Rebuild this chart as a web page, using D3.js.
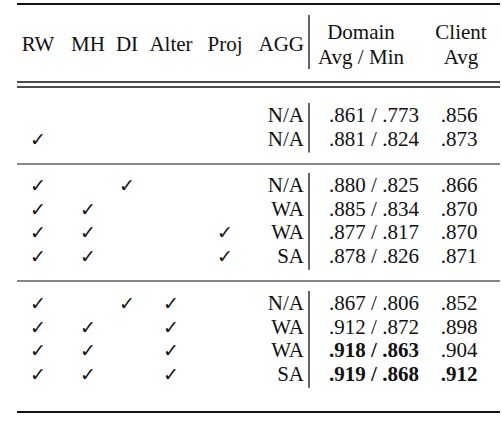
<!DOCTYPE html>
<html><head><meta charset="utf-8">
<script src="https://cdn.jsdelivr.net/npm/d3@7"></script>
<style>body{margin:0;background:#fff}text{font-family:"Liberation Serif","Times New Roman",serif;fill:#111}</style>
</head><body><svg id="chart"></svg>
<script>
var headers = ["RW", "MH", "DI", "Alter", "Proj", "AGG"];
var flags = [
    [0,0,0,0,0],[1,0,0,0,0],
    [1,0,1,0,0],[1,1,0,0,0],[1,1,0,0,1],[1,1,0,0,1],
    [1,0,1,1,0],[1,1,0,1,0],[1,1,0,1,0],[1,1,0,1,0]
];
var agg = ["N/A","N/A","N/A","WA","WA","SA","N/A","WA","WA","SA"];
var domainAvg = [".861",".881",".880",".885",".877",".878",".867",".912",".918",".919"];
var domainMin = [".773",".824",".825",".834",".817",".826",".806",".872",".863",".868"];
var clientAvg = [".856",".873",".866",".870",".870",".871",".852",".898",".904",".912"];
var boldDomain = [8, 9];
var boldClient = [9];
var groups = [[0,1],[2,5],[6,9]];

var W = 502, H = 448, fs = 21;
var svg = d3.select("#chart").attr("width", W).attr("height", H);

var colX = d3.scaleOrdinal().domain(headers).range([38, 88, 127, 171, 225, 275]);
var rowY = d3.scaleLinear().domain([0, 1]).range([0, 23.6]);
var groupTop = [122, 192, 310];
function yOf(i) {
    var g = groups.findIndex(r => i >= r[0] && i <= r[1]);
    return groupTop[g] + rowY(i - groups[g][0]);
}
var vx = 309, domHX = 361, domX = 374, cliX = 459;

function rule(y, w) {
    svg.append("line").attr("x1", 17).attr("x2", 500).attr("y1", y).attr("y2", y)
        .attr("stroke", "#111").attr("stroke-width", w);
}
rule(4, 2.2); rule(82, 1.4); rule(87, 1.4); rule(164, 1); rule(281, 1); rule(412, 2.2);

// header
headers.forEach(function (h, i) {
    svg.append("text").attr("x", i === 5 ? 304 : colX(h)).attr("y", 51)
        .attr("text-anchor", i === 5 ? "end" : "middle").attr("font-size", fs).text(h);
});
[["Domain", "Avg / Min", domHX], ["Client", "Avg", 461]].forEach(function (d) {
    svg.append("text").attr("x", d[2]).attr("y", 39).attr("text-anchor", "middle").attr("font-size", fs).text(d[0]);
    svg.append("text").attr("x", d[2]).attr("y", 64).attr("text-anchor", "middle").attr("font-size", fs).text(d[1]);
});

// vertical separators
svg.append("line").attr("x1", vx).attr("x2", vx).attr("y1", 15).attr("y2", 69).attr("stroke", "#111").attr("stroke-width", 1.3);
groups.forEach(function (g) {
    svg.append("line").attr("x1", vx).attr("x2", vx)
        .attr("y1", yOf(g[0]) - 19).attr("y2", yOf(g[1]) + 7)
        .attr("stroke", "#111").attr("stroke-width", 1.3);
});

// body
var rows = svg.selectAll("g.row").data(d3.range(agg.length)).enter().append("g")
    .attr("transform", i => "translate(0," + yOf(i) + ")");
rows.each(function (i) {
    var g = d3.select(this);
    flags[i].forEach(function (f, j) {
        if (f) g.append("text").attr("x", colX(headers[j])).attr("text-anchor", "middle")
            .attr("font-size", 19).attr("font-family", "DejaVu Sans").text("\u2713");
    });
    g.append("text").attr("x", 304).attr("text-anchor", "end").attr("font-size", fs).text(agg[i]);
    g.append("text").attr("x", domX).attr("text-anchor", "middle").attr("font-size", fs)
        .attr("font-weight", boldDomain.includes(i) ? "bold" : null)
        .text(domainAvg[i] + " / " + domainMin[i]);
    g.append("text").attr("x", cliX).attr("text-anchor", "middle").attr("font-size", fs)
        .attr("font-weight", boldClient.includes(i) ? "bold" : null).text(clientAvg[i]);
});
</script></body></html>
